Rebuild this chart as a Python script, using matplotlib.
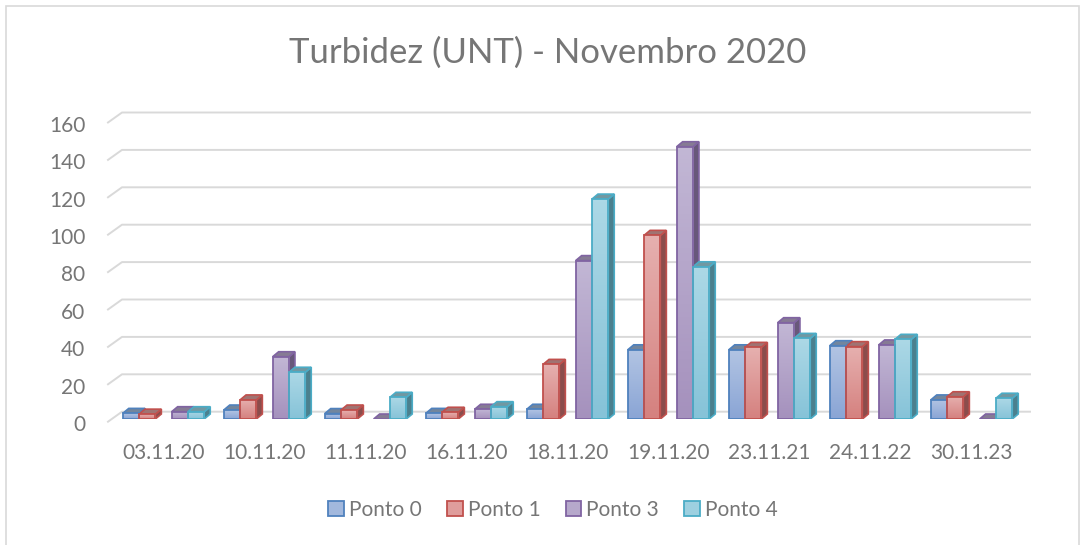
import numpy as np
import matplotlib
matplotlib.use('Agg')
import matplotlib.pyplot as plt
import matplotlib.transforms as mtransforms
from matplotlib.patches import Polygon, Rectangle, Patch
from matplotlib.colors import to_rgb, LinearSegmentedColormap

plt.rcParams['font.family'] = ['Lato', 'DejaVu Sans']

categories = ['03.11.20', '10.11.20', '11.11.20', '16.11.20', '18.11.20',
              '19.11.20', '23.11.21', '24.11.22', '30.11.23']
ponto0 = [3.0, 4.8, 2.9, 3.0, 5.2, 37.0, 37.0, 39.2, 10.2]
ponto1 = [2.6, 10.2, 4.8, 3.6, 29.2, 98.2, 38.3, 38.7, 11.9]
ponto3 = [3.9, 33.3, 0.0, 5.2, 84.7, 145.6, 51.5, 39.6, 0.0]
ponto4 = [3.9, 25.0, 11.6, 6.6, 117.6, 81.4, 43.1, 42.6, 11.1]
series_names = ['Ponto 0', 'Ponto 1', 'Ponto 3', 'Ponto 4']
yticks = [0, 20, 40, 60, 80, 100, 120, 140, 160]

edges = ['#4f81bd', '#c0504d', '#8064a2', '#4bacc6']
tops = ['#b2c4e3', '#e6b0af', '#c2b7d5', '#acd8e6']
bottoms = ['#8aa5d5', '#d5817f', '#a591bd', '#86c3d8']
slots = [-2, -1, 1, 2]   # empty slot in the middle of each group
txt = '#767676'

W, H = 1083, 545
fig = plt.figure(figsize=(W / 100, H / 100), dpi=100)
# axes placed so that x 0..9 -> px 113..1022, y 0..160 -> px 419..120
ax = fig.add_axes([113 / W, (H - 419) / H, 909 / W, 299.2 / H])
ax.set_xlim(0, 9)
ax.set_ylim(0, 160)

px_x = 9 / 909          # data units per pixel in x
px_y = 160 / 299.2      # data units per pixel in y
bw = 16.3 * px_x
dx, dy = 6 * px_x, 5 * px_y


def blend(c1, c2, t):
    a, b = np.array(to_rgb(c1)), np.array(to_rgb(c2))
    return tuple(a * (1 - t) + b * t)


# back wall grid with slanted left wall segment
for v in yticks:
    ax.plot([-5 * px_x, 9 * px_x, 1030 * px_x - 113 * px_x],
            [v - 2.7 * px_y, v + 7.3 * px_y, v + 7.3 * px_y],
            color='#d9d9d9', lw=1.4, clip_on=False, zorder=1)

grad = np.linspace(0, 1, 64).reshape(-1, 1)
for s, vals in enumerate([ponto0, ponto1, ponto3, ponto4]):
    cmap = LinearSegmentedColormap.from_list('g%d' % s, [bottoms[s], tops[s]])
    side = blend(edges[s], '#4a4a4a', 0.45)
    topc = blend(edges[s], '#8a8a8a', 0.6)
    for i, v in enumerate(vals):
        x0 = i + 0.5 + slots[s] * bw - bw / 2
        x1 = x0 + bw
        # side face
        ax.add_patch(Polygon([(x1, 0), (x1 + dx, dy), (x1 + dx, v + dy), (x1, v)],
                             closed=True, fc=side, ec=edges[s], lw=1.2, zorder=3))
        # top face
        ax.add_patch(Polygon([(x0, v), (x0 + dx, v + dy), (x1 + dx, v + dy), (x1, v)],
                             closed=True, fc=topc, ec=edges[s], lw=1.2, zorder=3))
        if v > 0:
            im = ax.imshow(grad, extent=[x0, x1, 0, v], origin='lower', cmap=cmap,
                           aspect='auto', zorder=4)
            rect = Rectangle((x0, 0), bw, v, fc='none', ec=edges[s], lw=1.3, zorder=5)
            ax.add_patch(rect)
            im.set_clip_path(rect)

ax.set_xlim(0, 9)
ax.set_ylim(0, 160)
for sp in ax.spines.values():
    sp.set_visible(False)
ax.set_xticks(np.arange(9) + 0.5)
ax.set_xticklabels(categories)
ax.set_yticks(yticks)
ax.set_yticklabels([str(t) for t in yticks])
ax.tick_params(length=0, colors=txt, labelsize=15)
ax.tick_params(axis='x', pad=17)
ax.tick_params(axis='y', pad=20)
# y labels sit on the front edge of the slanted grid, a few px lower
shift = mtransforms.ScaledTranslation(0, -4 / 100, fig.dpi_scale_trans)
for lab in ax.get_yticklabels():
    lab.set_transform(lab.get_transform() + shift)

fig.text(548 / W, 1 - 63 / H, 'Turbidez (UNT) - Novembro 2020', ha='center', va='baseline',
         fontsize=25, color=txt)

handles = [Patch(fc=blend(tops[k], bottoms[k], 0.4), ec=edges[k], lw=1.3) for k in range(4)]
fig.legend(handles, series_names, loc='center', bbox_to_anchor=(553 / W, 1 - 510 / H),
           ncol=4, frameon=False, fontsize=15, labelcolor=txt,
           handlelength=0.75, handleheight=0.75, handletextpad=0.25, columnspacing=1.2)

fig.add_artist(Rectangle((6 / W, -0.1), (1079 - 6) / W, 1.1 - 6 / H, transform=fig.transFigure,
                         fill=False, ec='#d9d9d9', lw=1.2))

fig.savefig('out.png', dpi=100, facecolor='white')
